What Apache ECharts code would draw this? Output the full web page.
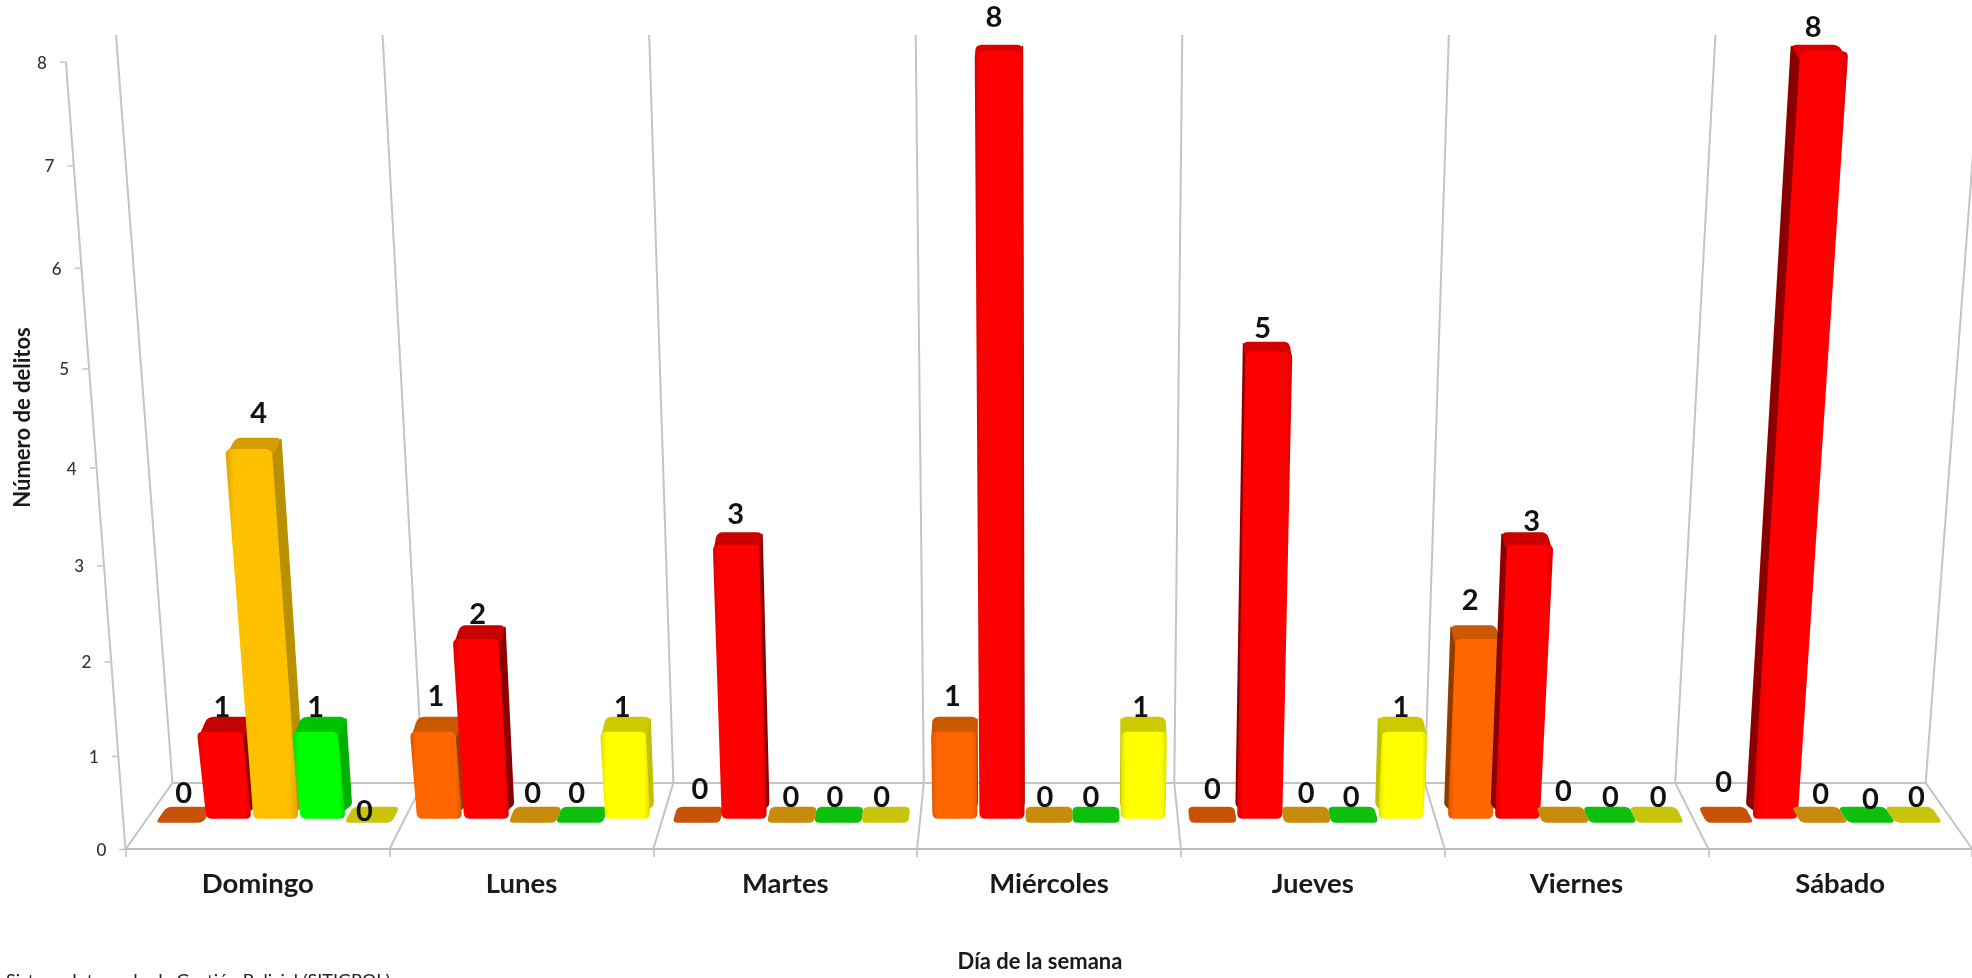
<!DOCTYPE html>
<html><head><meta charset="utf-8">
<style>html,body{margin:0;padding:0;background:#fff;overflow:hidden}#c{width:1972px;height:978px}</style>
<script src="https://cdn.jsdelivr.net/npm/echarts@6/dist/echarts.min.js"></script>
</head><body><div id="c"></div>
<script>
const categories = ['Domingo','Lunes','Martes','Miércoles','Jueves','Viernes','Sábado'];
const yTicks = [0,1,2,3,4,5,6,7,8];
const seriesA = [0,1,0,1,0,2,0];
const seriesB = [1,2,3,8,5,3,8];
const seriesC = [4,0,0,0,0,0,0];
const seriesD = [1,0,0,0,0,0,0];
const seriesE = [0,1,0,1,1,0,0];
const allSeries = [seriesA,seriesB,seriesC,seriesD,seriesE];

// style tables
const frontColors = ['#FF6600','#FF0000','#FFC000','#00FF00','#FFFF00'];
const edgeColors  = ['#D95500','#DC0000','#DDA500','#00D800','#DEDE00'];
const topColors   = ['#C85A04','#C00000','#C89400','#00C000','#C8C800'];
const sideColors  = ['#8F3C00','#8A0000','#B89000','#00B000','#C0C000'];
const zeroColors  = ['#C8520A','#C00000','#C88C0A','#0CC00C','#C8C40A'];
// manual label nudges, per series per day
const nudgeX = [[0,0,2,-2,0,-6,-3],[-2,-1,-2,-5,-5,4,-7],[6,-2,-1,-4,0,0,0],[-3,-5,-4,-5,-2,0,3],[-7,-3,-4,-3,-2,1,2]];
const nudgeY = [[3,-4,-1,-4,-1,-9,-8],[7,5,-2,-11,3,5,-1],[-8,3,7,7,3,1,4],[7,3,7,7,7,7,9],[21,7,7,7,7,7,7]];

const GRID = {left:126, width:1848, top:62, bottom:857};
const CX = 1050, Z_FRONT = 0.40, Z_BASE = 0.46, Z_BACK = 0.64;

// perspective: t = 0..1 of the linear axis height, z = 0 (front) .. 1 (back wall)
function project(px, py, z){
  const t = (GRID.bottom - py)/(GRID.bottom - GRID.top);
  const h = 744.8*t + 50*t*t;
  const yF = GRID.bottom - h, yB = 790 - 0.95*h;
  const s = (1 - 0.0509*z)*(1 + 0.065*t);
  return [CX + (px-CX)*s, yF + (yB-yF)*z];
}
function rounded(pts, r){
  const out = [], n = pts.length;
  for (let i=0;i<n;i++){
    const p=pts[i], a=pts[(i+n-1)%n], b=pts[(i+1)%n];
    const la=Math.hypot(a[0]-p[0],a[1]-p[1]), lb=Math.hypot(b[0]-p[0],b[1]-p[1]);
    const ra=Math.min(r,la/2)/la, rb=Math.min(r,lb/2)/lb;
    const s=[p[0]+(a[0]-p[0])*ra,p[1]+(a[1]-p[1])*ra], e=[p[0]+(b[0]-p[0])*rb,p[1]+(b[1]-p[1])*rb];
    for (let k=0;k<=4;k++){
      const u=k/4, v=1-u;
      out.push([v*v*s[0]+2*u*v*p[0]+u*u*e[0], v*v*s[1]+2*u*v*p[1]+u*u*e[1]]);
    }
  }
  return out;
}

function frameItem(params, api){
  const c0 = api.coord([0,0]), cw = api.size([1,0])[0];
  const line = '#C4C4C4', kids = [];
  const seg = (a,b,w)=>kids.push({type:'line',shape:{x1:a[0],y1:a[1],x2:b[0],y2:b[1]},style:{stroke:line,lineWidth:w||2},silent:true});
  const y8 = api.coord([0,8])[1], y0 = c0[1];
  for (let i=0;i<=categories.length;i++){
    const x = c0[0] - cw/2 + i*cw;
    seg(project(x,y0,1), project(x,y8,1));
    seg(project(x,y0,0), project(x,y0,1));
  }
  const xL = c0[0]-cw/2, xR = xL + cw*categories.length;
  seg(project(xL,y0,1), project(xR,y0,1));
  seg(project(xL,y0,0), project(xL,y8,0));
  yTicks.forEach(v=>{
    const p = project(xL, api.coord([0,v])[1], 0);
    seg([p[0]-6,p[1]], p, 1.5);
    kids.push({type:'text',style:{text:String(v),x:p[0]-24,y:p[1]+1,align:'center',verticalAlign:'middle',
      font:'500 17px Lato',fill:'#333'},silent:true});
  });
  return {type:'group',children:kids};
}

function barItem(si){
  return function(params, api){
    const cat = api.value(0), v = api.value(1);
    const c = api.coord([cat,0]), top = api.coord([cat,v]);
    const cw = api.size([1,0])[0], sw = cw*0.1825;
    const xl = c[0] + (si-2.5)*sw + 1, xr = xl + sw - 2, y0 = c[1], yt = top[1];
    const kids = [];
    const label = (x,y)=>kids.push({type:'text',z2:9,silent:true,style:{text:String(v),x:x+nudgeX[si][cat],y:y+nudgeY[si][cat],
      align:'center',verticalAlign:'middle',font:'bold 29px Lato',fill:'#111'}});
    const mid = (xl+xr)/2;
    if (v === 0){
      const poly = [project(xl-1,y0,Z_FRONT),project(xr+1,y0,Z_FRONT),project(xr+1,y0,Z_BACK),project(xl-1,y0,Z_BACK)];
      kids.push({type:'polygon',z2:0,shape:{points:rounded(poly,5)},style:{fill:zeroColors[si]}});
      label(project(mid,y0,0.5)[0], project(mid,y0,Z_BACK)[1]-16);
      return {type:'group',children:kids};
    }
    const t = (y0-yt)/(y0-api.coord([0,8])[1]);
    const fl0=project(xl,y0,Z_BASE), fr0=project(xr,y0,Z_BASE), flT=project(xl,yt,Z_FRONT), frT=project(xr,yt,Z_FRONT);
    const bl0=project(xl,y0,Z_BACK), br0=project(xr,y0,Z_BACK), blT=project(xl,yt,Z_BACK), brT=project(xr,yt,Z_BACK);
    const leftSide = mid > CX;
    const nearCentre = Math.abs(mid-CX) < cw*0.12;
    const shift = (p,dx,dy)=>[p[0]+dx,p[1]+dy];
    if (!nearCentre){
      // the side runs under the front face so rounded corners leave no gap
      const d = leftSide ? 9 : -9;
      const sidePts = leftSide
        ? [shift(fl0,d,-2),shift(flT,d,4),shift(blT,0,0),shift(bl0,0,-2)]
        : [shift(fr0,d,-2),shift(frT,d,4),shift(brT,0,0),shift(br0,0,-2)];
      kids.push({type:'polygon',z2:1,shape:{points:rounded(sidePts,3)},style:{fill:sideColors[si]}});
    }
    // the top runs under the front face for the same reason
    kids.push({type:'polygon',z2:1,shape:{points:rounded([shift(flT,0,9),shift(frT,0,9),brT,blT],6)},
      style:{fill:echarts.color.lerp(t,[topColors[si],edgeColors[si]])}});
    kids.push({type:'polygon',z2:2,shape:{points:rounded([flT,frT,fr0,fl0],6)},style:{
      fill:new echarts.graphic.LinearGradient(0,0,1,0,[
        {offset:0,color:edgeColors[si]},{offset:0.12,color:frontColors[si]},
        {offset:0.88,color:frontColors[si]},{offset:1,color:edgeColors[si]}])}});
    label(project(mid,yt,0.5)[0], project(mid,yt,Z_BACK)[1]-16);
    return {type:'group',children:kids};
  };
}

const chart = echarts.init(document.getElementById('c'), null, {renderer:'canvas'});
chart.setOption({
  animation:false,
  backgroundColor:'#fff',
  grid:{left:GRID.left, width:GRID.width, top:GRID.top, height:GRID.bottom-GRID.top, containLabel:false},
  xAxis:{type:'category',data:categories,
    axisLine:{lineStyle:{color:'#BDBDBD',width:2}},
    axisTick:{show:true,length:8,alignWithLabel:false,lineStyle:{color:'#BDBDBD',width:1.5}},
    axisLabel:{interval:0,fontFamily:'Lato',fontWeight:'bold',fontSize:27.5,color:'#1a1a1a',margin:21},
    name:'Día de la semana',nameLocation:'middle',nameGap:102,
    nameTextStyle:{fontFamily:'Lato',fontWeight:'bold',fontSize:22,color:'#1a1a1a',padding:[0,18,0,0]}},
  yAxis:{type:'value',min:0,max:8,interval:1,
    axisLine:{show:false},axisTick:{show:false},axisLabel:{show:false},splitLine:{show:false},
    name:'Número de delitos',nameLocation:'middle',nameGap:92,
    nameTextStyle:{fontFamily:'Lato',fontWeight:'bold',fontSize:22,color:'#1a1a1a',padding:[0,0,0,76]}},
  graphic:[{type:'text',left:-58,top:972,silent:true,
    style:{text:'Fuente: Sistema Integrado de Gestión Policial (SITIGPOL)',font:'18px Lato',fill:'#222'}}],
  series:[
    {type:'custom',name:'frame',data:[[0,0]],renderItem:frameItem,z:1,silent:true,encode:{x:0,y:1}}
  ].concat(allSeries.map((vals,si)=>({
    type:'custom',name:'Serie '+(si+1),z:2+si,silent:true,
    data:vals.map((v,i)=>[i,v]),encode:{x:0,y:1},renderItem:barItem(si)
  })))
});
</script></body></html>
